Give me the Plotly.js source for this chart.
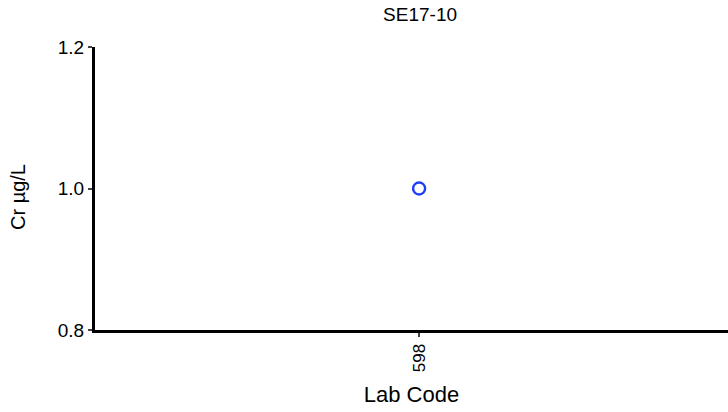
<!DOCTYPE html>
<html>
<head>
<meta charset="utf-8">
<script src="https://cdn.plot.ly/plotly-3.0.1.min.js"></script>
<style>
  html, body { margin: 0; padding: 0; background: #fff; }
  #chart { width: 728px; height: 412px; }
</style>
</head>
<body>
<div id="chart"></div>
<script>
const labCodes = ['598'];
const crValues = [1.0];
const yTicks = [0.8, 1.0, 1.2];

const data = [{
  x: labCodes,
  y: crValues,
  type: 'scatter',
  mode: 'markers',
  marker: { symbol: 'circle-open', size: 12, color: '#1f3cff', line: { width: 2.4, color: '#1f3cff' } },
  showlegend: false
}];

const layout = {
  width: 728,
  height: 412,
  margin: { l: 95, r: 0, t: 47, b: 82 },
  paper_bgcolor: '#ffffff',
  plot_bgcolor: '#ffffff',
  font: { family: 'Liberation Sans, Arial, sans-serif', color: '#000', size: 18 },
  title: { text: 'SE17-10', x: 0.577, xanchor: 'center', y: 0.965, yanchor: 'middle', font: { size: 19 } },
  xaxis: {
    type: 'category',
    range: [-0.512, 0.488],
    showgrid: false,
    zeroline: false,
    showline: true,
    linewidth: 3,
    linecolor: '#000',
    ticks: 'outside',
    ticklen: 4,
    tickwidth: 2,
    tickangle: -90,
    tickfont: { size: 17 },
    title: { text: 'Lab Code', font: { size: 22 }, standoff: 16 }
  },
  yaxis: {
    range: [0.8, 1.2],
    tickvals: yTicks,
    ticktext: yTicks.map(v => v.toFixed(1)),
    showgrid: false,
    zeroline: false,
    showline: true,
    linewidth: 3,
    linecolor: '#000',
    ticks: 'outside',
    ticklen: 4,
    tickwidth: 2,
    tickfont: { size: 19 }
  },
  annotations: [{
    text: 'Cr µg/L',
    xref: 'paper', yref: 'paper',
    x: 0, y: 0.47,
    xshift: -77,
    xanchor: 'center', yanchor: 'middle',
    textangle: -90,
    showarrow: false,
    font: { size: 20 }
  }]
};

Plotly.newPlot('chart', data, layout, { displayModeBar: false, staticPlot: true });
</script>
</body>
</html>
